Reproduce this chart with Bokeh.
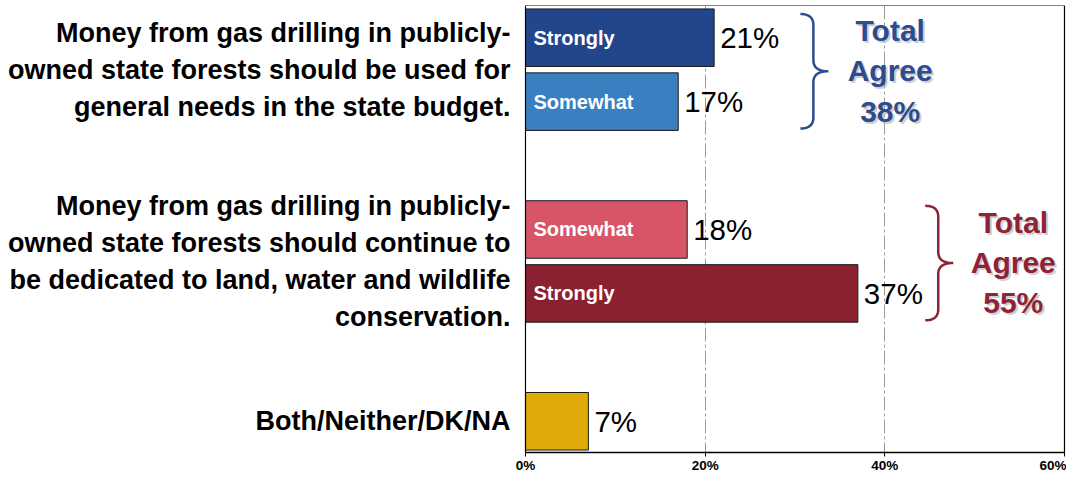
import numpy as np
from bokeh.plotting import figure
from bokeh.models import Range1d, FixedTicker
from bokeh.core.properties import value
from bokeh.embed import file_html
from bokeh.resources import INLINE

# ---------------- data ----------------
statements = [
    "Money from gas drilling in publicly-\nowned state forests should be used for\ngeneral needs in the state budget.",
    "Money from gas drilling in publicly-\nowned state forests should continue to\nbe dedicated to land, water and wildlife\nconservation.",
    "Both/Neither/DK/NA",
]
bar_labels = ["Strongly", "Somewhat", "Somewhat", "Strongly", ""]
values = [21, 17, 18, 37, 7]
bar_group = [0, 0, 1, 1, 2]
total_groups = [0, 1]
x_ticks = [0, 20, 40, 60]
tick_labels = ["0%", "20%", "40%", "60%"]
x_max = 60

# ---------------- layout / style ----------------
FONT = "Liberation Sans"
W, H = 1066, 475
X0_PX = 525.0            # pixel of 0 %
PXX = 8.983              # pixels per %
PXY = 64.5               # pixels per slot
Y0_PX = 37.5             # pixel of slot 0
TOP_PX, BOT_PX = 5.0, 456.0

slots = [0, 1, 3, 4, 6]
colors = ["#22468C", "#3A80C0", "#D85568", "#8B2030", "#E0A90A"]
total_colors = ["#2C4C8F", "#8E2236"]
total_x = [40.6, 54.3]
brace_x = [30.6, 44.5]

x_start = -X0_PX / PXX
x_end = (W - X0_PX) / PXX
y_top = (TOP_PX - Y0_PX) / PXY
y_bot = (BOT_PX - Y0_PX) / PXY

p = figure(width=W, height=H, output_backend="svg", toolbar_location=None,
           x_range=Range1d(x_start, x_end), y_range=Range1d(y_bot, y_top),
           min_border_left=0, min_border_right=0, min_border_top=int(TOP_PX),
           min_border_bottom=0)
p.outline_line_color = None
p.background_fill_color = "white"
p.border_fill_color = "white"

p.yaxis.visible = False
p.ygrid.visible = False
p.xgrid.ticker = FixedTicker(ticks=[20, 40])
p.xgrid.grid_line_color = "#9a9a9a"
p.xgrid.grid_line_dash = "14 3 3 3"
p.xgrid.grid_line_width = 1

ax = p.xaxis[0]
ax.bounds = (0, x_max)
ax.ticker = FixedTicker(ticks=x_ticks)
ax.major_label_overrides = {t: l for t, l in zip(x_ticks, tick_labels)}
ax.major_label_text_font = FONT
ax.major_label_text_font_style = "bold"
ax.major_label_text_font_size = "13.5px"
ax.major_label_text_color = "black"
ax.major_label_standoff = 1
ax.major_tick_out = 4
ax.major_tick_in = 0
ax.minor_tick_out = 0
ax.minor_tick_in = 0
ax.axis_line_width = 1.5
ax.axis_line_color = "black"
ax.major_tick_line_color = "black"

# bars
p.hbar(y=slots, left=0, right=values, height=0.9, fill_color=colors,
       line_color="#1a1a1a", line_width=1)

# plot box (0 .. x_max, full height)
p.quad(left=[0], right=[x_max], top=[y_top], bottom=[y_bot],
       fill_color=None, line_color="black", line_width=1.2)

# labels inside bars
p.text(x=[0] * len(values), y=slots, text=bar_labels, x_offset=8,
       text_baseline="middle", text_align="left", text_color="white",
       text_font=value(FONT), text_font_style="bold", text_font_size="20px")

# value labels
p.text(x=values, y=slots, text=[f"{v}%" for v in values], x_offset=6,
       text_baseline="middle", text_align="left", text_color="black",
       text_font=value(FONT), text_font_size="29.5px")

# statement labels on the left
centers = []
for gi in range(len(statements)):
    ys = [slots[i] for i in range(len(values)) if bar_group[i] == gi]
    centers.append(sum(ys) / len(ys))
p.text(x=[0] * len(statements), y=centers, text=statements, x_offset=-15,
       text_align="right", text_baseline="middle", text_font=value(FONT),
       text_font_style="bold", text_font_size="27px",
       text_line_height=1.23, text_color="black")

# braces + totals
def qb(p0, p1, p2, n=14):
    t = np.linspace(0, 1, n)
    x = (1 - t) ** 2 * p0[0] + 2 * (1 - t) * t * p1[0] + t ** 2 * p2[0]
    y = (1 - t) ** 2 * p0[1] + 2 * (1 - t) * t * p1[1] + t ** 2 * p2[1]
    return list(x), list(y)

for k, gi in enumerate(total_groups):
    col = total_colors[k]
    ys = [slots[i] for i in range(len(values)) if bar_group[i] == gi]
    yt = min(ys) - 0.37
    yb = max(ys) + 0.42
    ym = (yt + yb) / 2
    xl = brace_x[k]
    xs = xl + 13 / PXX
    xt = xl + 28 / PXX
    r = 11 / PXY
    xx, yy = [], []
    for seg in [((xl, yt), (xs, yt), (xs, yt + r)),
                ((xs, ym - r), (xs, ym), (xt, ym)),
                ((xt, ym), (xs, ym), (xs, ym + r)),
                ((xs, yb - r), (xs, yb), (xl, yb))]:
        a, b = qb(*seg)
        xx += a
        yy += b
    p.line(xx, yy, line_color=col, line_width=2.5)

    total = sum(values[i] for i in range(len(values)) if bar_group[i] == gi)
    txt = f"Total\nAgree\n{total}%"
    ty = sum(ys) / len(ys) + 0.02
    for dx, dy, c, a in [(2, 2, "#b0b0b0", 0.6), (0, 0, col, 1.0)]:
        p.text(x=[total_x[k]], y=[ty], text=[txt], x_offset=dx, y_offset=dy,
               text_align="center", text_baseline="middle",
               text_font=value(FONT), text_font_style="bold",
               text_font_size="30px", text_line_height=1.22,
               text_color=c, text_alpha=a)

open("out.html", "w").write(file_html(p, INLINE))
